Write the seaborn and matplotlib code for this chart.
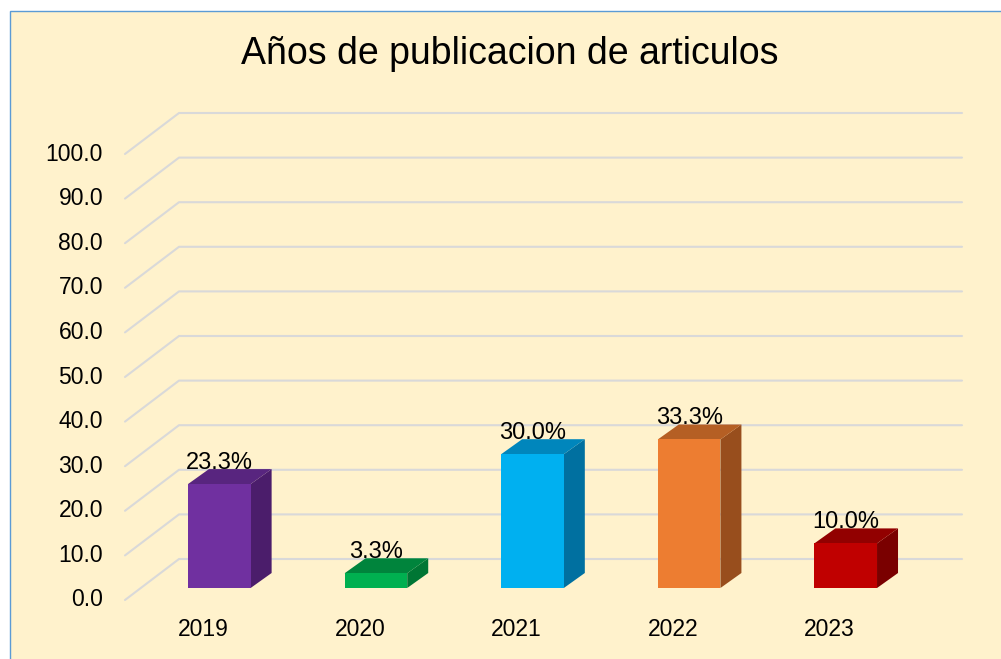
import matplotlib
matplotlib.use("Agg")
import matplotlib.pyplot as plt
import seaborn as sns
from matplotlib.patches import Polygon, Rectangle

# ==========================
# DATOS
# ==========================
anios = ["2019", "2020", "2021", "2022", "2023"]
porcentajes = [23.3, 3.3, 30.0, 33.3, 10.0]
ticks_y = [0, 10, 20, 30, 40, 50, 60, 70, 80, 90, 100]

color_frente = ["#7030A0", "#00B050", "#00B0F0", "#ED7D31", "#C00000"]
color_tapa = ["#58257F", "#00843C", "#0086BC", "#B55F24", "#920000"]
color_lado = ["#4B1D6B", "#007634", "#0070A0", "#984E1D", "#7A0000"]

fondo = "#FFF2CC"
gris = "#D9D9D9"

sns.set_style("white")
plt.rcParams["font.family"] = ["Liberation Sans", "DejaVu Sans"]

W, H = 1001, 659
fig = plt.figure(figsize=(W / 100, H / 100), dpi=100)
fig.patch.set_facecolor("white")
fig.patches.append(Rectangle((9.5 / W, -0.1), 1.2, 1 - 10.5 / H + 0.1,
                             transform=fig.transFigure, facecolor=fondo,
                             edgecolor="#5B9BD5", linewidth=1.0, zorder=-5))

# eje en el plano de las barras (pixeles medidos)
left, right, bottom, top = 141, 924, 588, 142
ax = fig.add_axes([left / W, (H - bottom) / H, (right - left) / W, (bottom - top) / H])
ax.set_zorder(1)
ax.set_facecolor("none")
ax.patch.set_alpha(0)
ax.set_xlim(-0.5, 4.5)
ax.set_ylim(0, 100)

# pixel -> unidades de datos
px = 5 / (right - left)
py = 100 / (bottom - top)

# ==========================
# CUADRICULA 3D
# ==========================
for t in ticks_y:
    xs = [-0.5 - 16 * px, -0.5 + 38 * px, 4.5 + 38 * px]
    ys = [t - 12 * py, t + 29 * py, t + 29 * py]
    ax.plot(xs, ys, color=gris, lw=1.5, clip_on=False, zorder=0)
    ax.text(-0.5 - 38 * px, t - 12 * py, f"{t:.1f}", ha="right", va="center",
            fontsize=16.5, color="black")

# ==========================
# BARRAS
# ==========================
sns.barplot(x=anios, y=porcentajes, hue=anios, palette=color_frente, legend=False,
            width=0.4, saturation=1, ax=ax, zorder=3)

dx, dy = 21 * px, 15 * py
for i, bar in enumerate(list(ax.patches)):
    x0 = bar.get_x()
    x1 = x0 + bar.get_width()
    h = bar.get_height()
    bar.set_edgecolor("none")
    lado = Polygon([(x1, 0), (x1, h), (x1 + dx, h + dy), (x1 + dx, dy)],
                   closed=True, facecolor=color_lado[i], edgecolor="none", zorder=2)
    tapa = Polygon([(x0, h), (x1, h), (x1 + dx, h + dy), (x0 + dx, h + dy)],
                   closed=True, facecolor=color_tapa[i], edgecolor="none", zorder=2)
    ax.add_patch(lado)
    ax.add_patch(tapa)
    ax.text(x0 + bar.get_width() / 2, h + 15.5 * py, f"{porcentajes[i]:.1f}%",
            ha="center", va="baseline", fontsize=17, color="black", zorder=5)

for i, a in enumerate(anios):
    ax.text(i - 16 * px, -41 * py, a, ha="center", va="center", fontsize=16.5,
            color="black", clip_on=False)

ax.set_xlim(-0.5, 4.5)
ax.set_ylim(0, 100)
ax.set_xticks([])
ax.set_yticks([])
ax.set_xlabel("")
ax.set_ylabel("")
sns.despine(ax=ax, left=True, bottom=True)

fig.text(510 / W, 1 - 54 / H, "Años de publicacion de articulos", ha="center",
         va="center", fontsize=27, color="black")

fig.savefig("out.png", dpi=100)
plt.close(fig)
print("Grafico guardado: out.png")
